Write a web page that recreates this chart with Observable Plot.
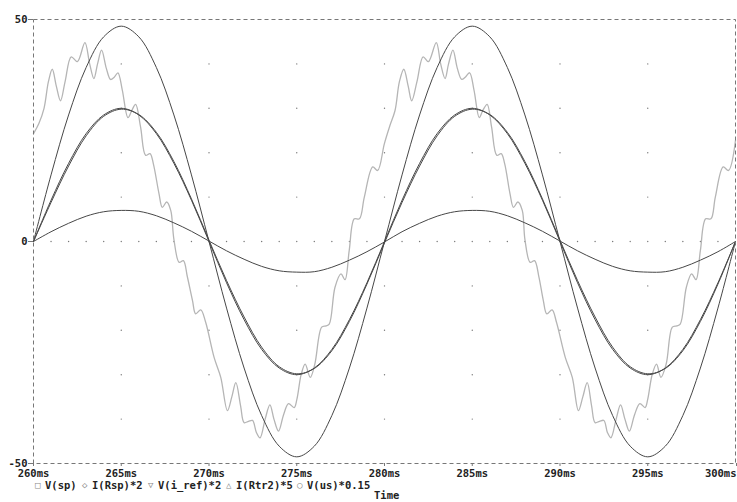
<!DOCTYPE html>
<html>
<head>
<meta charset="utf-8">
<script src="https://cdn.jsdelivr.net/npm/d3@7"></script>
<script src="https://cdn.jsdelivr.net/npm/@observablehq/plot@0.6"></script>
<style>
  html, body { margin: 0; padding: 0; background: #fff; }
  #wrap { position: relative; width: 737px; height: 502px; overflow: hidden; }
  #wrap svg { position: absolute; left: 0; top: 0; }
  .lg { position: absolute; font-family: "DejaVu Sans Mono", monospace; font-weight: bold; font-size: 10.5px; color: #222; white-space: pre; line-height: 9px; height: 9px; }
  .sym { color: #888; font-weight: normal; font-size: 9px; }
</style>
</head>
<body>
<div id="wrap"></div>
<script>
// ---- data ----
const times = [260,261,262,263,264,265,266,267,268,269,270,271,272,273,274,275,276,277,278,279,280,281,282,283,284,285,286,287,288,289,290,291,292,293,294,295,296,297,298,299,300];
const vSp   = [0,15.0,28.5,39.2,46.1,48.5,46.1,39.2,28.5,15.0,0,-15.0,-28.5,-39.2,-46.1,-48.5,-46.1,-39.2,-28.5,-15.0,0,15.0,28.5,39.2,46.1,48.5,46.1,39.2,28.5,15.0,0,-15.0,-28.5,-39.2,-46.1,-48.5,-46.1,-39.2,-28.5,-15.0,0];
const iRsp  = [0,9.3,17.6,24.3,28.5,30.0,28.5,24.3,17.6,9.3,0,-9.3,-17.6,-24.3,-28.5,-30.0,-28.5,-24.3,-17.6,-9.3,0,9.3,17.6,24.3,28.5,30.0,28.5,24.3,17.6,9.3,0,-9.3,-17.6,-24.3,-28.5,-30.0,-28.5,-24.3,-17.6,-9.3,0];
const vIref = [0,8.8,17.0,23.8,28.2,29.8,28.6,24.6,18.0,9.6,0.3,-8.8,-17.0,-23.8,-28.2,-29.8,-28.6,-24.6,-18.0,-9.6,-0.3,8.8,17.0,23.8,28.2,29.8,28.6,24.6,18.0,9.6,0.3,-8.8,-17.0,-23.8,-28.2,-29.8,-28.6,-24.6,-18.0,-9.6,0];
const iRtr2 = [0,2.2,4.1,5.7,6.7,7.0,6.8,5.8,4.2,2.3,0.1,-2.1,-4.0,-5.6,-6.6,-6.9,-6.8,-5.8,-4.2,-2.3,-0.1,2.2,4.1,5.7,6.7,7.0,6.8,5.8,4.2,2.3,0.1,-2.1,-4.0,-5.6,-6.6,-6.9,-6.8,-5.8,-4.2,-2.3,0];
const usTimes = [260,260.3,260.6,260.85,261.07,261.3,261.54,261.8,262.15,262.5,262.93,263.2,263.44,263.65,263.88,264.15,264.39,264.6,264.81,265.06,265.38,265.6,265.82,266.1,266.39,266.64,266.83,267.15,267.34,267.59,267.82,268.0,268.3,268.54,268.77,269.06,269.24,269.53,269.81,270.29,270.67,271.05,271.3,271.53,271.8,272.0,272.25,272.48,272.7,272.91,273.2,273.47,273.7,273.96,274.25,274.53,274.85,275.01,275.25,275.48,275.77,276.03,276.42,276.66,276.85,277.18,277.52,277.75,277.99,278.28,278.57,278.85,279.33,279.61,279.99,
  280.3,280.6,280.85,281.1,281.35,281.55,281.85,282.2,282.5,282.95,283.2,283.45,283.65,283.9,284.15,284.4,284.6,284.85,285.1,285.4,285.6,285.85,286.1,286.4,286.65,286.85,287.15,287.35,287.6,287.85,288.0,288.3,288.55,288.8,289.05,289.25,289.55,289.8,290.3,290.7,291.05,291.3,291.55,291.8,292.0,292.25,292.5,292.7,292.9,293.2,293.45,293.7,293.95,294.25,294.55,294.85,295.0,295.25,295.5,295.75,296.05,296.4,296.65,296.85,297.2,297.5,297.75,298.0,298.3,298.6,298.85,299.3,299.6,300];
const vUs = [24.3,26.5,30,36,38.8,35,31.7,36,41.6,40.5,44.8,40,36.7,40,43.1,39,36.5,37,38,34.1,27.9,29.5,30.9,25.8,19.4,19.8,17.5,10.8,7.7,8.9,7.0,0.5,-4.7,-4.3,-8,-13.3,-16.3,-15.4,-18.2,-26.1,-30.6,-38.1,-35,-31.8,-37,-40.8,-40.5,-40.3,-43,-44.2,-40,-36.8,-40,-42.7,-39,-36.5,-37.4,-35.5,-30,-27.6,-30.6,-27.6,-19.3,-19.0,-18.6,-10.3,-7.3,-8.6,-2,5.1,5.1,10,16.8,16,22,
  26.0,29.5,36,38.8,35,31.7,36,41.6,40.5,44.8,40,36.7,40,43.1,39,36.5,37,38,34.1,27.9,29.5,30.9,25.8,19.4,19.8,17.5,10.8,7.7,8.9,7.0,0.5,-4.7,-4.3,-8,-13.3,-16.3,-15.4,-18.2,-26.1,-30.6,-38.1,-35,-31.8,-37,-40.8,-40.5,-40.3,-43,-44.2,-40,-36.8,-40,-42.7,-39,-36.5,-37.4,-35.5,-30,-27.6,-30.6,-27.6,-19.3,-19.0,-18.6,-10.3,-7.3,-8.6,-2,5.1,5.1,10,16.8,16,22.8];

const xTicks = [260,265,270,275,280,285,290,295,300];
const xTickLabels = ["260ms","265ms","270ms","275ms","280ms","285ms","290ms","295ms","300ms"];
const yTicks = [-50,0,50];
const yTickLabels = ["-50","0","50"];
const gridTimes = [265,270,275,280,285,290,295];
const gridLevels = [-40,-30,-20,-10,10,20,30,40];
const zeroDotTimes = [261,262,263,264,265,266,267,268,269,270,271,272,273,274,275,276,277,278,279,280,281,282,283,284,285,286,287,288,289,290,291,292,293,294,295,296,297,298,299];
const seriesNames = ["V(sp)","I(Rsp)*2","V(i_ref)*2","I(Rtr2)*5","V(us)*0.15"];
const seriesSymbols = ["\u25A1","\u25C7","\u25BD","\u25B3","\u25CB"];
const xAxisTitle = "Time";

// ---- build tables ----
const smooth = [vSp, iRsp, vIref, iRtr2];
const smoothRows = smooth.flatMap((arr, s) => times.map((t, i) => ({t, v: arr[i], s: seriesNames[s]})));
const usRows = usTimes.map((t, i) => ({t, v: vUs[i]}));
const gridPts = gridTimes.flatMap(t => gridLevels.map(v => ({t, v})));
const zeroPts = zeroDotTimes.map(t => ({t, v: 0}));
const lastTick = xTicks[xTicks.length - 1];
const innerTicks = xTicks.slice(0, -1);

const chart = Plot.plot({
  width: 737,
  height: 480,
  marginLeft: 33,
  marginRight: 2,
  marginTop: 19,
  marginBottom: 17,
  style: {fontFamily: "DejaVu Sans Mono", fontSize: "10.5px", fontWeight: "bold", color: "#222", background: "#fff"},
  x: {domain: [260, 300]},
  y: {domain: [-50, 50]},
  marks: [
    Plot.dot(gridPts, {x: "t", y: "v", r: 0.7, fill: "#777", stroke: null}),
    Plot.dot(zeroPts, {x: "t", y: "v", r: 0.7, fill: "#777", stroke: null}),
    Plot.line(usRows, {x: "t", y: "v", stroke: "#b5b5b5", strokeWidth: 1.3, curve: "catmull-rom"}),
    Plot.line(smoothRows, {x: "t", y: "v", z: "s", stroke: "#474747", strokeWidth: 1, curve: "catmull-rom"}),
    Plot.frame({stroke: "#777", strokeDasharray: "4,3"}),
    Plot.axisX(innerTicks, {tickSize: 3, tickPadding: 3, tickFormat: (d) => xTickLabels[xTicks.indexOf(d)], stroke: "#777", label: null, fill: "#222"}),
    Plot.axisX([lastTick], {tickSize: 3, tickPadding: 3, textAnchor: "end", dx: 1, tickFormat: (d) => xTickLabels[xTicks.indexOf(d)], stroke: "#777", label: null, fill: "#222"}),
    Plot.axisY(yTicks, {tickSize: 5, tickPadding: 1, tickFormat: (d) => yTickLabels[yTicks.indexOf(d)], stroke: "#777", label: null, fill: "#222"})
  ]
});
const wrap = document.getElementById("wrap");
wrap.appendChild(chart);

// legend below the SVG
const lgX = [35, 82, 148, 226, 297];
seriesNames.forEach((name, i) => {
  const sym = document.createElement("div");
  sym.className = "lg sym";
  sym.style.left = lgX[i] + "px";
  sym.style.top = "481px";
  sym.textContent = seriesSymbols[i];
  wrap.appendChild(sym);
  const lab = document.createElement("div");
  lab.className = "lg";
  lab.style.left = (lgX[i] + 10) + "px";
  lab.style.top = "481px";
  lab.textContent = name;
  wrap.appendChild(lab);
});
const tl = document.createElement("div");
tl.className = "lg";
tl.style.left = "374px";
tl.style.top = "491px";
tl.textContent = xAxisTitle;
wrap.appendChild(tl);
</script>
</body>
</html>
